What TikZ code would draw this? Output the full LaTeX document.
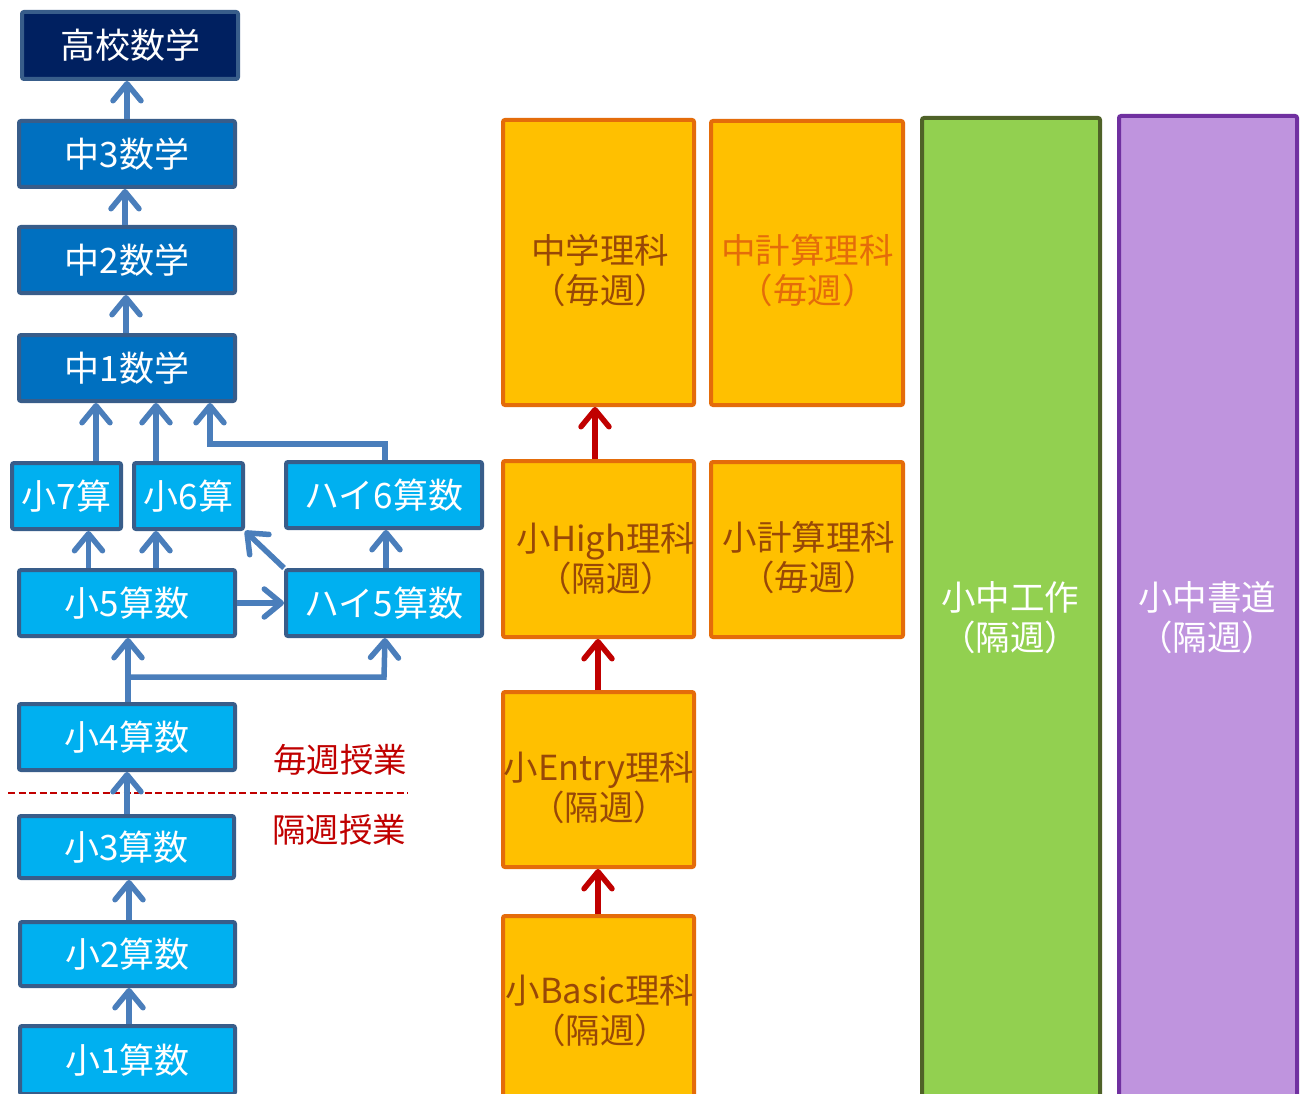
\documentclass[tikz,border=0pt]{standalone}
\usepackage{fontspec}
\setmainfont{Noto Sans CJK JP}
\usetikzlibrary{arrows.meta,calc}
\definecolor{navy}{HTML}{002060}
\definecolor{midblue}{HTML}{0070C0}
\definecolor{lightblue}{HTML}{00B0F0}
\definecolor{bborder}{HTML}{385D8A}
\definecolor{arrowblue}{HTML}{4A7EBB}
\definecolor{ofill}{HTML}{FFC000}
\definecolor{oborder}{HTML}{E46C0A}
\definecolor{brown}{HTML}{984807}
\definecolor{otxt}{HTML}{E46C0A}
\definecolor{gfill}{HTML}{92D050}
\definecolor{gborder}{HTML}{4F6228}
\definecolor{pfill}{HTML}{BF94DE}
\definecolor{pborder}{HTML}{7030A0}
\definecolor{darkred}{HTML}{C00000}
\begin{document}
\begin{tikzpicture}[x=1pt,y=-1pt,
  bluebox/.style={draw=bborder, line width=4pt, rounded corners=2pt, inner sep=0pt,
    text=white, font=\fontsize{35}{40}\selectfont},
  obox/.style={draw=oborder, fill=ofill, line width=4pt, rounded corners=2pt, inner sep=0pt},
  gbox/.style={draw=gborder, fill=gfill, line width=4pt, rounded corners=2pt, inner sep=0pt},
  pbox/.style={draw=pborder, fill=pfill, line width=4pt, rounded corners=2pt, inner sep=0pt},
  ltext/.style={align=center, inner sep=0pt, font=\fontsize{34.5}{40}\selectfont},
  barrow/.style={draw=arrowblue, line width=5.5pt, -{Straight Barb[length=17pt,width=28pt,round]}},
  rarrow/.style={draw=darkred, line width=5.5pt, -{Straight Barb[length=17pt,width=28pt,round]}},
]
\useasboundingbox (0,0) rectangle (1307,1094);
\fill[white] (0,0) rectangle (1307,1094);

% dashed divider
\coordinate (dl) at (8,793);
\coordinate (dr) at (408,793);
\draw[darkred, line width=2pt, dash pattern=on 7pt off 3.5pt] (dl) -- (dr);
\node[ltext, text=darkred, font=\fontsize{33.5}{40}\selectfont] (weekly) at (340,760) {毎週授業};
\node[ltext, text=darkred, font=\fontsize{33.5}{40}\selectfont] (biweekly) at (339,830) {隔週授業};

% blue boxes
\node[bluebox, fill=navy, minimum width=216pt, minimum height=67pt] (hs) at (130,45.5) {高校数学};
\node[bluebox, fill=midblue, minimum width=216pt, minimum height=66pt] (m3) at (127,154) {中3数学};
\node[bluebox, fill=midblue, minimum width=216pt, minimum height=66pt] (m2) at (127,260) {中2数学};
\node[bluebox, fill=midblue, minimum width=216pt, minimum height=66pt] (m1) at (127,368) {中1数学};
\node[bluebox, fill=lightblue, minimum width=109pt, minimum height=66pt] (s7) at (66.5,496) {小7算};
\node[bluebox, fill=lightblue, minimum width=109pt, minimum height=66pt] (s6) at (188.5,496) {小6算};
\node[bluebox, fill=lightblue, minimum width=196pt, minimum height=66pt] (h6) at (384,495) {ハイ6算数};
\node[bluebox, fill=lightblue, minimum width=216pt, minimum height=66pt] (s5) at (127,603) {小5算数};
\node[bluebox, fill=lightblue, minimum width=196pt, minimum height=66pt] (h5) at (384,603) {ハイ5算数};
\node[bluebox, fill=lightblue, minimum width=216pt, minimum height=66pt] (s4) at (127,737) {小4算数};
\node[bluebox, fill=lightblue, minimum width=215pt, minimum height=62pt] (s3) at (126.5,847) {小3算数};
\node[bluebox, fill=lightblue, minimum width=215pt, minimum height=64pt] (s2) at (127.5,954) {小2算数};
\node[bluebox, fill=lightblue, minimum width=215pt, minimum height=68pt] (s1) at (127.5,1060) {小1算数};

% blue arrows
\draw[barrow] (m3.north) -- (hs.south -| m3.north);
\draw[barrow] ([xshift=-2pt]m2.north) -- ([xshift=-2pt]m2.north |- m3.south);
\draw[barrow] ([xshift=-1pt]m1.north) -- ([xshift=-1pt]m1.north |- m2.south);
\draw[barrow] ([xshift=29.5pt]s7.north) -- ([xshift=29.5pt]s7.north |- m1.south);
\draw[barrow] ([xshift=-32.5pt]s6.north) -- ([xshift=-32.5pt]s6.north |- m1.south);
\coordinate (j6) at (210,444);
\draw[barrow] ([xshift=1pt]h6.north) |- (j6) -- (j6 |- m1.south);
\draw[barrow] ([xshift=-38.5pt]s5.north) -- ([xshift=-38.5pt]s5.north |- s7.south);
\draw[barrow] ([xshift=29pt]s5.north) -- ([xshift=29pt]s5.north |- s6.south);
\draw[barrow] (h5.north west) -- (s6.south east);
\draw[barrow] (s5.east) -- (h5.west);
\draw[barrow] ([xshift=2pt]h5.north) -- ([xshift=2pt]h5.north |- h6.south);
\coordinate (j4) at (128,677);
\draw[barrow] ([xshift=1pt]s4.north) -- ([xshift=1pt]s4.north |- s5.south);
\draw[barrow] (j4) -- (j4 -| h5.north) -- ([xshift=1pt]h5.south);
\draw[barrow] ([xshift=0.5pt]s3.north) -- ([xshift=0.5pt]s3.north |- s4.south);
\draw[barrow] ([xshift=1.5pt]s2.north) -- ([xshift=1.5pt]s2.north |- s3.south);
\draw[barrow] ([xshift=1.5pt]s1.north) -- ([xshift=1.5pt]s1.north |- s2.south);

% orange boxes
\node[obox, minimum width=191pt, minimum height=285pt] (cs) at (598.5,262.5) {};
\node[obox, minimum width=192pt, minimum height=284pt] (cc) at (807,263) {};
\node[obox, minimum width=191pt, minimum height=176pt] (sh) at (598.5,549) {};
\node[obox, minimum width=192pt, minimum height=175pt] (sc) at (807,549.5) {};
\node[obox, minimum width=191pt, minimum height=175pt] (se) at (598.5,779.5) {};
\node[obox, minimum width=191pt, minimum height=194pt] (sb) at (598.5,1013) {};
\node[gbox, minimum width=178pt, minimum height=992pt] (gw) at (1011,614) {};
\node[pbox, minimum width=178pt, minimum height=994pt] (pw) at (1208,613) {};

\node[ltext, text=brown] (cst) at (600,271) {中学理科\\（毎週）};
\node[ltext, text=otxt] (cct) at (807.5,271) {中計算理科\\（毎週）};
\node[ltext, text=brown] (sht) at (606,559) {小High理科\\（隔週）};
\node[ltext, text=brown] (sct) at (809,558) {小計算理科\\（毎週）};
\node[ltext, text=brown] (set) at (599,788) {小Entry理科\\（隔週）};
\node[ltext, text=brown] (sbt) at (600,1011) {小Basic理科\\（隔週）};
\node[ltext, text=white] (gwt) at (1010,617.5) {小中工作\\（隔週）};
\node[ltext, text=white] (pwt) at (1207,617.5) {小中書道\\（隔週）};

% red arrows
\draw[rarrow] ([xshift=-3.5pt]sh.north) -- ([xshift=-3.5pt]sh.north |- cs.south);
\draw[rarrow] ([xshift=-0.5pt]se.north) -- ([xshift=-0.5pt]se.north |- sh.south);
\draw[rarrow] ([xshift=-0.5pt]sb.north) -- ([xshift=-0.5pt]sb.north |- se.south);
\end{tikzpicture}
\end{document}
